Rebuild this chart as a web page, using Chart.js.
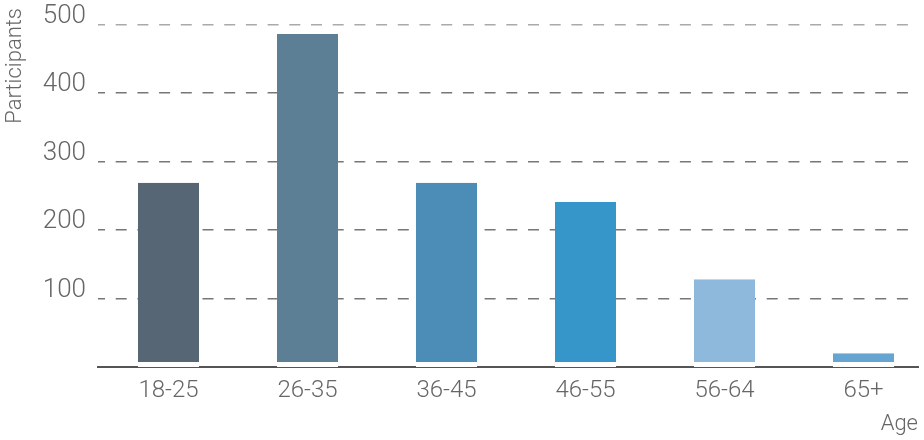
<!DOCTYPE html>
<html>
<head>
<meta charset="utf-8">
<script src="https://cdn.jsdelivr.net/npm/chart.js@4.4.1/dist/chart.umd.min.js"></script>
<style>
  body { margin: 0; background: #fff; }
  canvas { display: block; }
</style>
</head>
<body>
<canvas id="ageChart" width="924" height="440"></canvas>
<script>
var ages = ['18-25', '26-35', '36-45', '46-55', '56-64', '65+'];
var participants = [269, 486, 269, 241, 128, 20];
var barColors = ['#566675', '#5d7f95', '#4c8db7', '#3696c9', '#8fb9dc', '#66a4d1'];
var yTicks = [100, 200, 300, 400, 500];

var ctx = document.getElementById('ageChart');
var chart = new Chart(ctx, {
  type: 'bar',
  data: {
    datasets: [{
      label: 'Participants',
      data: participants.map(function (v, i) { return { x: i, y: v }; }),
      backgroundColor: barColors,
      // white strip at the foot of each bar keeps it off the axis line
      borderColor: '#ffffff',
      borderWidth: { top: 0, left: 0, right: 0, bottom: 5 },
      borderSkipped: false,
      categoryPercentage: 1,
      barPercentage: 0.44
    }]
  },
  options: {
    responsive: false,
    animation: false,
    layout: { padding: { top: 8, right: 6, left: 0, bottom: 0 } },
    plugins: {
      legend: { display: false },
      tooltip: { enabled: false }
    },
    scales: {
      x: {
        type: 'linear',
        min: -0.507,
        max: 5.392,
        offset: false,
        grid: { display: false, drawTicks: false },
        border: { display: true, color: '#555', width: 2 },
        afterBuildTicks: function (s) {
          s.ticks = ages.map(function (a, i) { return { value: i }; });
        },
        afterFit: function (s) {
          s.height = 73;
          s.paddingLeft = 0;
          s.paddingRight = 0;
        },
        ticks: {
          autoSkip: false,
          maxRotation: 0,
          padding: 10,
          color: '#666',
          font: { family: 'Roboto', size: 24, weight: 300 },
          callback: function (v) { return ages[v]; }
        },
        title: {
          display: true,
          text: 'Age',
          align: 'end',
          color: '#666',
          padding: { top: 0, bottom: 2 },
          font: { family: 'Roboto', size: 22, weight: 300 }
        }
      },
      y: {
        min: 0,
        max: 524,
        grid: {
          drawTicks: false,
          lineWidth: 1.5,
          color: function (c) { return c.tick && c.tick.value === 500 ? '#aaa' : '#777'; }
        },
        border: { display: false, dash: [11, 10.7], dashOffset: 4 },
        afterBuildTicks: function (s) {
          s.ticks = yTicks.map(function (v) { return { value: v }; });
        },
        afterFit: function (s) {
          s.width = 98;
          s.paddingTop = 0;
          s.paddingBottom = 0;
        },
        ticks: {
          padding: 12,
          labelOffset: -8,
          color: '#666',
          font: { family: 'Roboto', size: 26, weight: 300 }
        },
        title: {
          display: true,
          text: 'Participants',
          align: 'end',
          color: '#666',
          padding: { top: 2, bottom: 0 },
          font: { family: 'Roboto', size: 22, weight: 300 }
        }
      }
    }
  }
});
</script>
</body>
</html>
